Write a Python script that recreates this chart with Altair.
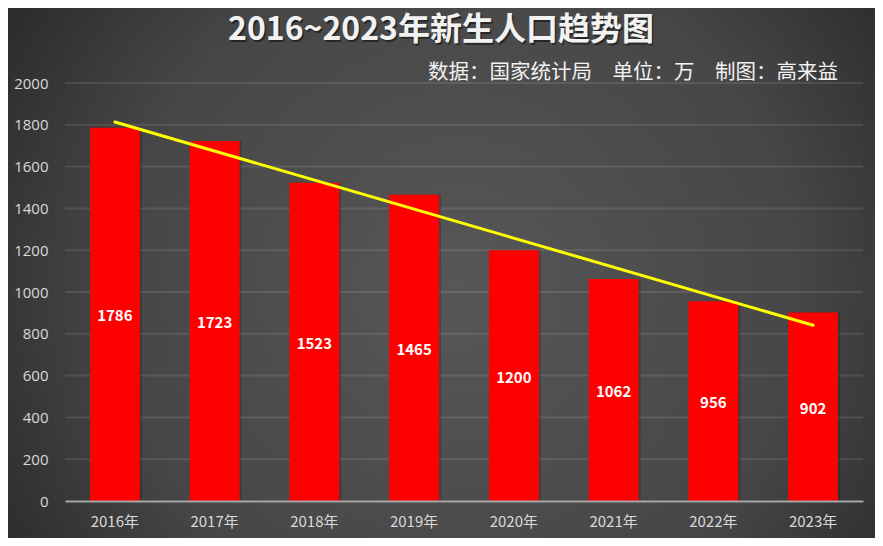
import altair as alt
import pandas as pd

years = ["2016年", "2017年", "2018年", "2019年", "2020年", "2021年", "2022年", "2023年"]
births = [1786, 1723, 1523, 1465, 1200, 1062, 956, 902]
y_ticks = [0, 200, 400, 600, 800, 1000, 1200, 1400, 1600, 1800, 2000]
title_text = "2016~2023年新生人口趋势图"
subtitle_text = "数据：国家统计局\u3000单位：万\u3000制图：高来益"

df = pd.DataFrame({"year": years, "value": births, "idx": list(range(len(years)))})
gdf = pd.DataFrame({"tick": y_ticks[1:]})

W, H = 798, 418
PAD = {"left": 57, "top": 75, "right": 12, "bottom": 37}
FONT = "Noto Sans CJK SC"

base = alt.Chart(df)

bg = alt.Chart(pd.DataFrame({"a": [0]})).mark_rect(
    color={
        "gradient": "radial",
        "x1": 0.52, "y1": 0.52, "r1": 0.0,
        "x2": 0.52, "y2": 0.52, "r2": 0.72,
        "stops": [
            {"offset": 0, "color": "#575757"},
            {"offset": 0.55, "color": "#464646"},
            {"offset": 1, "color": "#1e1e1e"},
        ],
    }
).encode(
    x=alt.value(-PAD["left"]), x2=alt.value(W + PAD["right"]),
    y=alt.value(-PAD["top"]), y2=alt.value(H + PAD["bottom"]),
)

yscale = alt.Scale(domain=[0, 2000])
xscale = alt.Scale(paddingInner=0.5, paddingOuter=0.25)
yaxis = alt.Axis(orient="left", values=y_ticks, format="d", labelColor="#d9d9d9", zindex=1,
                 labelFontSize=15, labelFont="Open Sans", labelPadding=17,
                 ticks=False, domain=False, grid=False, title=None)

grid = alt.Chart(gdf).mark_rule(color="#ffffff", opacity=0.1, strokeWidth=2).encode(
    y=alt.Y("tick:Q", scale=yscale, axis=yaxis, title=None),
    x=alt.value(0), x2=alt.value(W),
)

shadow = base.mark_bar(color="#000000", opacity=0.18, xOffset=2).encode(
    x=alt.X("year:N", sort=years, scale=xscale, axis=None),
    y=alt.Y("value:Q", scale=yscale, axis=yaxis, title=None),
)

xenc = alt.X("year:N", sort=years, title=None, scale=xscale,
             axis=alt.Axis(orient="bottom", labelAngle=0, labelColor="#d9d9d9",
                           labelFontSize=15, labelFont=FONT, labelPadding=13,
                           ticks=False, zindex=1, domainColor="#a6a6a6",
                           domainWidth=2, grid=False))
yenc = alt.Y("value:Q", title=None, scale=yscale, axis=yaxis)

bars = base.mark_bar(color="#ff0000").encode(x=xenc, y=yenc)

labels = base.transform_calculate(half="datum.value / 2").mark_text(
    color="white", fontSize=15, fontWeight="bold", font=FONT, baseline="middle", dy=2
).encode(
    x=alt.X("year:N", sort=years, scale=xscale, axis=None),
    y=alt.Y("half:Q", scale=yscale, axis=yaxis, title=None),
    text=alt.Text("value:Q"),
)

trend = base.transform_regression("idx", "value", method="linear").mark_line(
    color="#ffff00", strokeWidth=3, strokeCap="round"
).encode(
    x=alt.X("idx:Q", scale=alt.Scale(domain=[-0.5, 7.5], nice=False, zero=False), axis=None),
    y=alt.Y("value:Q", scale=yscale, axis=yaxis, title=None),
)

tdf = pd.DataFrame({"t": [title_text]})
title_shadow = alt.Chart(tdf).mark_text(
    font=FONT, fontSize=32, fontWeight="bold", color="#000000", opacity=0.45,
    align="center", baseline="middle"
).encode(text="t:N", x=alt.value(377.5), y=alt.value(-51.5))
title = alt.Chart(tdf).mark_text(
    font=FONT, fontSize=32, fontWeight="bold", color="#f2f2f2",
    align="center", baseline="middle"
).encode(text="t:N", x=alt.value(376), y=alt.value(-53))

sdf = pd.DataFrame({"s": [subtitle_text]})
subtitle = alt.Chart(sdf).mark_text(
    font=FONT, fontSize=20.5, color="#f2f2f2", align="right", baseline="middle"
).encode(text="s:N", x=alt.value(773), y=alt.value(-10))

chart = alt.layer(
    bg, grid, shadow, bars, labels, trend, title_shadow, title, subtitle
).resolve_scale(x="independent").resolve_axis(x="independent").properties(
    width=W, height=H,
    autosize=alt.AutoSizeParams(type="none"),
    padding=PAD,
).configure_view(stroke=None).configure(background="#2a2a2a")

chart.save("out.html", embed_options={"renderer": "svg", "actions": False})
